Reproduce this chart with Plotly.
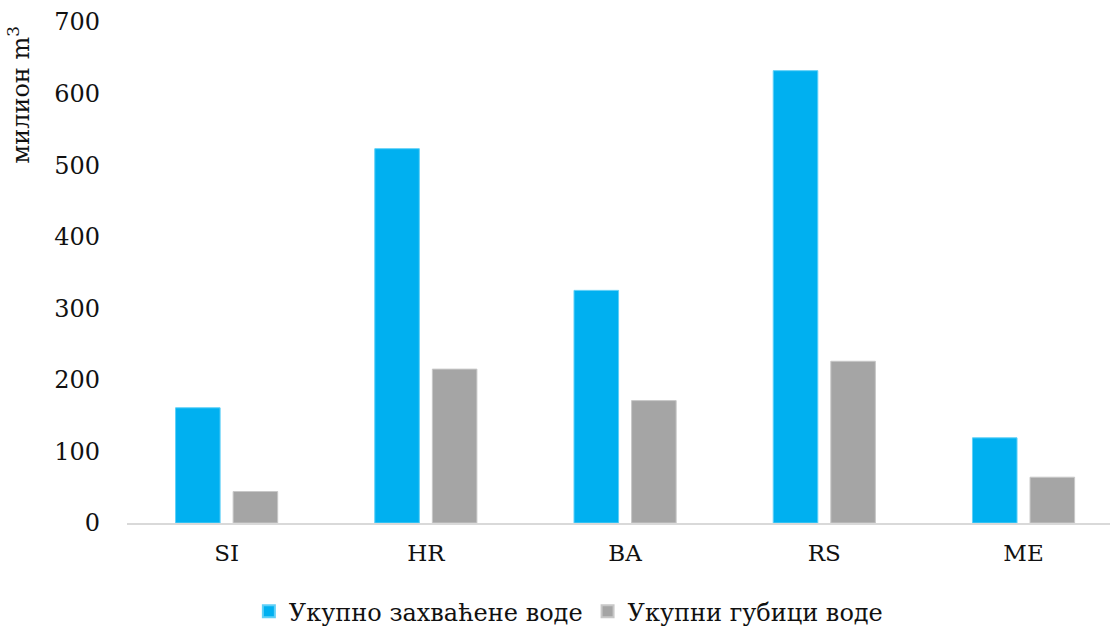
import plotly.graph_objects as go

# Country codes on the category axis
countries = ["SI", "HR", "BA", "RS", "ME"]

# Water volumes, million m³
abstracted_total = [161, 523, 325, 632, 119]
losses_total = [44, 215, 171, 226, 64]

series_names = ["Укупно захваћене воде", "Укупни губици воде"]
y_ticks = [0, 100, 200, 300, 400, 500, 600, 700]

FONT = "DejaVu Serif"
TEXT = "#111111"

fig = go.Figure()
fig.add_trace(go.Bar(
    x=countries, y=abstracted_total, name=series_names[0],
    marker=dict(color="#00B0F0", line=dict(color="#5FD0F7", width=1)),
))
fig.add_trace(go.Bar(
    x=countries, y=losses_total, name=series_names[1],
    marker=dict(color="#A5A5A5", line=dict(color="#C8C8C8", width=1)),
))

fig.update_layout(
    width=1110, height=628,
    margin=dict(l=127, r=0, t=22, b=105, autoexpand=False),
    paper_bgcolor="white", plot_bgcolor="white",
    barmode="group", bargap=0.422, bargroupgap=0.226,
    font=dict(family=FONT, size=24, color=TEXT),
    showlegend=True,
    legend=dict(
        orientation="h", xref="paper", x=0.449, xanchor="center",
        yref="container", y=0.026, yanchor="middle",
        font=dict(family=FONT, size=24, color=TEXT),
        itemsizing="constant", traceorder="normal", itemwidth=30,
    ),
    xaxis=dict(
        range=[-0.5, 4.434], showgrid=False, zeroline=False,
        showline=True, linecolor="#D9D9D9", linewidth=2,
        ticks="", ticklabelstandoff=8, automargin=False,
        tickfont=dict(family=FONT, size=23, color=TEXT),
    ),
    yaxis=dict(
        range=[0, 700], tickvals=y_ticks, showgrid=False, zeroline=False,
        showline=False, ticks="", ticklabelstandoff=26, automargin=False,
        tickfont=dict(family=FONT, size=24, color=TEXT),
    ),
    annotations=[dict(
        text="милион m<sup>3</sup>", xref="paper", yref="paper",
        x=-0.11, y=0.855, xanchor="center", yanchor="middle",
        textangle=-90, showarrow=False,
        font=dict(family=FONT, size=24, color=TEXT),
    )],
)

fig.write_html("out.html")
